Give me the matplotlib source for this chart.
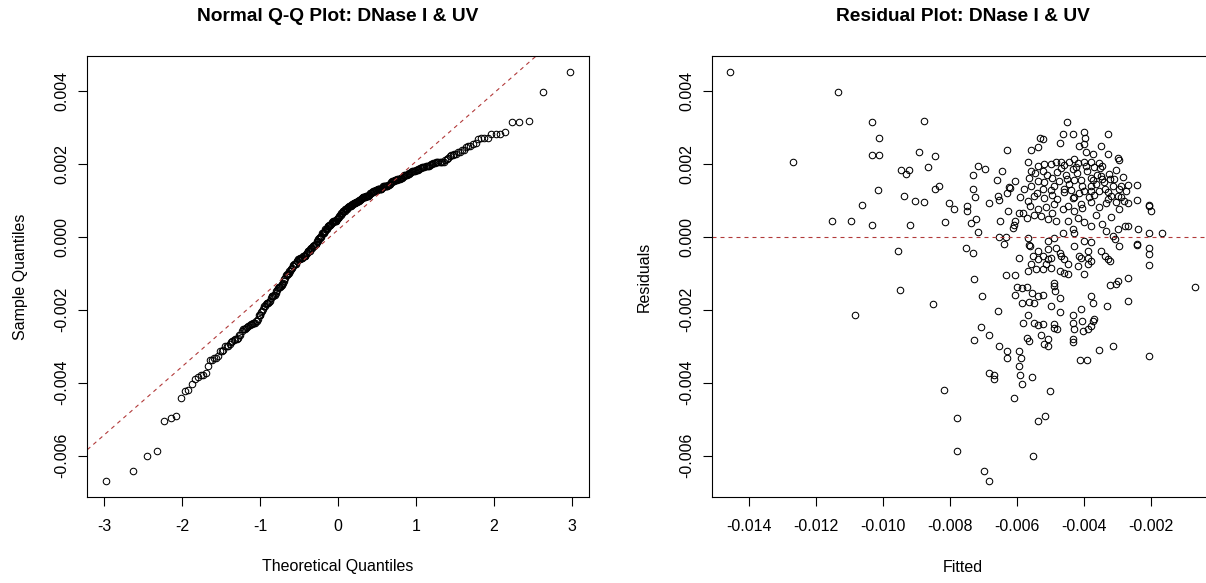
import statistics
import numpy as np
import matplotlib
matplotlib.use("Agg")
import matplotlib.pyplot as plt

plt.rcParams['font.family'] = ['Liberation Sans', 'DejaVu Sans']
plt.rcParams['axes.unicode_minus'] = False

# fitted values and residuals (units of 1e-3)
# sparse points on the left
FITTED_LEFT = [-14.56, -11.34, -12.69, -10.34, -10.12, -10.34, -10.12, -10.16, -10.62, -11.51,
               -10.96, -10.34, -10.83,
               -8.78, -8.93, -8.46, -9.46, -9.23, -9.30, -8.65, -8.46, -8.33, -9.37,
               -9.06, -8.78, -8.03, -7.87, -9.20, -8.16, -9.55, -9.49, -8.52, -8.18,
               -7.78, -7.80]
RESID_LEFT = [4.52, 3.98, 2.06, 3.16, 2.72, 2.24, 2.24, 1.30, 0.89, 0.44,
              0.44, 0.33, -2.15,
              3.18, 2.32, 2.21, 1.84, 1.84, 1.72, 1.91, 1.31, 1.39, 1.13,
              0.99, 0.96, 0.93, 0.76, 0.32, 0.40, -0.39, -1.45, -1.84, -4.20,
              -4.97, -5.87]

# lower tail and right-hand points
FITTED_EDGE = [-6.09, -5.01, -5.38, -5.16, -5.53, -7.00, -6.83,
               -2.07, -2.07, -2.69, -2.69, -0.70, -2.07, -2.69, -2.41, -2.74, -2.41,
               -2.69, -2.07, -1.99, -2.07, -2.69, -2.39, -2.07, -1.67, -2.41, -2.41,
               -2.07]
RESID_EDGE = [-4.42, -4.22, -5.06, -4.91, -6.00, -6.43, -6.69,
              -0.48, -0.78, -1.12, -1.76, -1.36, -3.28, 1.42, 1.42, 1.27, 1.02,
              0.93, 0.84, 0.72, 0.88, 0.30, 0.23, 0.12, 0.12, -0.23, -0.20,
              -0.29]

# cluster, fitted -7.5 .. -5.3
FITTED_MID = [-6.31, -5.57, -5.37, -5.31, -7.18, -6.96, -7.33, -5.66, -5.58, -5.37,
              -5.63, -5.37, -6.61, -7.31, -7.26, -6.24, -6.22, -5.78, -5.58, -6.58,
              -6.53, -6.31, -5.68, -5.48, -6.83, -7.50, -7.50, -6.28, -5.93, -5.83,
              -5.71, -5.48, -5.37, -7.23, -7.36, -6.50, -6.05, -6.08, -6.13, -7.16,
              -6.55, -6.33, -6.39, -5.66, -5.65, -5.60, -7.53, -7.33, -5.93, -5.53,
              -5.37,
              -5.38, -7.28, -6.33, -6.05, -5.68, -5.58, -5.43, -6.00, -5.85, -5.70,
              -6.07, -5.54, -5.37, -7.06, -5.86, -5.64, -5.49, -6.58, -5.66, -5.81,
              -5.49, -5.37, -7.08, -6.83, -7.30, -5.71, -5.64, -6.53, -6.31, -6.31,
              -5.93, -5.88, -5.93, -6.83, -6.70, -6.68, -5.90, -5.54, -5.84]
RESID_MID = [2.39, 2.39, 2.48, 2.71, 1.95, 1.86, 1.70, 2.06, 1.82, 1.95,
             1.61, 1.54, 1.56, 1.33, 1.10, 1.38, 1.35, 1.33, 1.39, 1.13,
             1.02, 1.22, 0.99, 1.13, 0.93, 0.85, 0.72, 0.72, 0.65, 0.67,
             0.53, 0.60, 0.76, 0.49, 0.38, 0.44, 0.44, 0.32, 0.25, 0.14,
             0.01, 0.01, -0.18, -0.04, -0.23, -0.26, -0.29, -0.43, -0.57, -0.52,
             -0.39,
             -0.61, -1.16, -1.05, -1.05, -0.94, -0.75, -0.89, -1.36, -1.39, -1.36,
             -1.58, -1.53, -1.62, -1.62, -1.80, -1.79, -1.80, -2.02, -2.13, -2.37,
             -2.37, -2.43, -2.47, -2.70, -2.83, -2.77, -2.86, -3.00, -3.14, -3.32,
             -3.14, -3.32, -3.55, -3.73, -3.80, -3.91, -3.80, -3.84, -4.03]

# cluster, fitted -5.3 .. -2.8
FITTED_RIGHT = [-4.51, -4.64, -4.34, -3.99, -3.97, -3.29, -5.24, -4.73, -4.14, -3.99,
                -3.93, -3.48, -3.74, -3.29, -2.99, -2.97, -5.19, -4.99, -4.84, -4.69,
                -4.44, -4.29, -4.19, -3.99, -3.79, -3.54, -5.24, -4.81, -4.34, -3.51,
                -4.29, -4.09, -3.74, -3.79, -3.48, -3.26, -3.24, -3.46, -2.89, -2.97,
                -4.89, -4.61, -4.59, -4.31, -4.34, -5.24, -5.19, -3.99, -3.79, -3.69,
                -3.39, -3.29, -3.19, -2.99, -2.81, -5.14, -4.89, -4.64, -4.49, -4.09,
                -3.79, -3.54, -3.34, -3.04, -2.97, -5.29, -5.09, -4.84, -4.49, -4.19,
                -3.99, -3.79, -4.64, -4.29, -4.34, -3.34, -2.99, -2.79, -5.09, -4.89,
                -3.99, -3.79, -3.14, -3.09, -5.09, -4.84, -4.29, -3.89, -5.24, -4.99,
                -4.69, -4.14, -3.39, -2.97,
                -5.09, -5.14, -5.24, -4.99, -4.73, -4.59, -4.49, -4.73, -4.59, -4.49,
                -4.09, -3.89, -3.79, -4.19, -3.89, -3.99, -3.48, -3.29, -3.24, -2.99,
                -3.24, -3.04, -4.89, -4.89, -4.87, -5.24, -4.73, -3.79, -3.74, -4.99,
                -4.73, -4.09, -3.31, -4.32, -4.34, -4.07, -3.74, -3.69, -5.24, -4.89,
                -4.89, -4.81, -4.29, -4.04, -3.89, -3.79, -5.29, -5.09, -5.19, -5.09,
                -4.34, -4.34, -3.54, -3.14, -4.12, -3.92]
RESID_RIGHT = [3.16, 2.83, 2.83, 2.87, 2.73, 2.84, 2.69, 2.57, 2.49, 2.55,
               2.34, 2.49, 2.28, 2.28, 2.18, 2.12, 2.00, 2.00, 2.05, 2.05,
               2.05, 2.14, 2.02, 2.05, 2.05, 2.02, 1.82, 1.79, 1.86, 1.88,
               1.57, 1.57, 1.57, 1.63, 1.68, 1.73, 1.59, 1.59, 1.39, 1.31,
               1.40, 1.33, 1.24, 1.11, 1.06, 1.31, 1.08, 1.27, 1.39, 1.15,
               1.31, 1.24, 1.13, 1.13, 0.99, 0.81, 0.90, 0.76, 0.85, 0.90,
               0.95, 0.81, 0.92, 0.95, 0.76, 0.58, 0.49, 0.44, 0.44, 0.53,
               0.40, 0.30, 0.12, 0.12, 0.21, 0.17, 0.21, 0.30, -0.11, -0.02,
               -0.11, -0.15, 0.03, -0.06, -0.34, -0.29, -0.25, -0.39, -0.52, -0.57,
               -0.52, -0.52, -0.52, -0.25,
               -0.61, -0.75, -0.89, -0.84, -0.43, -0.61, -0.75, -0.94, -0.98, -1.03,
               -0.57, -0.57, -0.66, -0.80, -0.75, -1.03, -0.39, -0.61, -0.66, -1.21,
               -1.33, -1.30, -1.25, -1.35, -1.49, -1.58, -1.67, -1.62, -1.80, -1.90,
               -2.06, -1.97, -1.90, -2.15, -2.35, -2.31, -2.31, -2.26, -2.40, -2.40,
               -2.49, -2.52, -2.54, -2.57, -2.52, -2.45, -2.68, -2.81, -2.95, -3.00,
               -2.80, -2.89, -3.09, -3.00, -3.38, -3.38]

# points hidden in the overlapping part of the cluster
FITTED_HIDDEN = [-5.10, -4.95, -4.75, -4.55, -4.45, -4.20, -4.05, -3.90, -3.65, -3.55,
                 -3.40, -3.10, -3.05, -4.70, -4.40, -3.85, -3.60, -4.95, -5.40, -5.45,
                 -6.05, -6.45, -5.90, -4.15, -3.30, -2.85, -3.95, -4.60, -5.00, -3.70,
                 -4.25, -3.15, -4.80, -5.20, -3.45, -2.90, -4.50, -3.80,
                 -4.95, -4.30, -3.65, -3.20, -5.60, -4.05, -3.45]
RESID_HIDDEN = [1.70, 1.62, 1.55, 1.70, 1.45, 1.75, 1.40, 1.80, 1.45, 1.25,
                1.50, 1.60, 1.85, 1.90, 1.30, 1.10, 1.70, 1.15, 1.20, 1.75,
                1.55, 1.80, 1.10, 1.20, 1.05, 1.65, 1.95, 1.98, 1.30, 1.92,
                1.92, 1.40, 1.05, 1.50, 1.95, 1.10, 1.60, 1.25,
                0.65, 0.70, 0.60, 0.55, 0.85, 0.80, 0.35]

X_TICKS_QQ = [-3, -2, -1, 0, 1, 2, 3]
X_TICKS_FIT = [-0.014, -0.012, -0.010, -0.008, -0.006, -0.004, -0.002]
Y_TICKS = [-0.006, -0.004, -0.002, 0.000, 0.002, 0.004]

fitted = np.array(FITTED_LEFT + FITTED_EDGE + FITTED_MID + FITTED_RIGHT + FITTED_HIDDEN) * 1e-3
resid = np.array(RESID_LEFT + RESID_EDGE + RESID_MID + RESID_RIGHT + RESID_HIDDEN) * 1e-3

# qqnorm / qqline like R
n = len(resid)
nd = statistics.NormalDist()
a = 3 / 8 if n <= 10 else 0.5
theo = np.array([nd.inv_cdf((i - a) / (n + 1 - 2 * a)) for i in range(1, n + 1)])
sample = np.sort(resid)
qy = np.quantile(resid, [0.25, 0.75])
qx = np.array([nd.inv_cdf(0.25), nd.inv_cdf(0.75)])
slope = (qy[1] - qy[0]) / (qx[1] - qx[0])
icpt = qy[0] - slope * qx[0]

W, H = 1206, 583
fig = plt.figure(figsize=(W / 100, H / 100), dpi=100)
bottom = 1 - 497 / H
height = (497 - 56) / H
ax1 = fig.add_axes([87.3 / W, bottom, 501.5 / W, height])
ax2 = fig.add_axes([711.7 / W, bottom, 501.5 / W, height])

red = '#b23a3a'
mk = dict(marker='o', ls='none', ms=4.7, mfc='none', mec='black', mew=0.75)

ax1.plot(theo, sample, **mk)
ax1.axline((0, icpt), slope=slope, color=red, lw=0.8, ls=(0, (3.6, 3.6)))
ax1.margins(0.04)
ax1.set_xticks(X_TICKS_QQ)
ax1.set_xticklabels([str(t) for t in X_TICKS_QQ])

ax2.plot(fitted, resid, **mk)
ax2.axhline(0, color=red, lw=0.8, ls=(0, (3.6, 3.6)))
ax2.margins(0.04)
ax2.set_xticks(X_TICKS_FIT)
ax2.set_xticklabels(['%.3f' % t for t in X_TICKS_FIT])

for ax, title, xl, yl in [(ax1, 'Normal Q-Q Plot: DNase I & UV', 'Theoretical Quantiles', 'Sample Quantiles'),
                          (ax2, 'Residual Plot: DNase I & UV', 'Fitted', 'Residuals')]:
    ax.set_yticks(Y_TICKS)
    ax.set_yticklabels(['%.3f' % t for t in Y_TICKS], rotation=90, va='center')
    for s in ax.spines.values():
        s.set_linewidth(0.8)
        s.set_color('black')
    ax.tick_params(direction='out', length=6.7, width=0.8, labelsize=11.5, color='black')
    ax.tick_params(axis='x', pad=9)
    ax.tick_params(axis='y', pad=6)
    ax.set_title(title, fontsize=13.8, fontweight='bold', y=1 + 39 / 441, va='center', pad=0)
    ax.set_xlabel(xl, fontsize=11.5, va='center')
    ax.xaxis.set_label_coords(0.5, -70 / 441)
    ax.set_ylabel(yl, fontsize=11.5, va='center')
    ax.yaxis.set_label_coords(-67 / 501.5, 0.5)

fig.savefig('out.png', dpi=100)
